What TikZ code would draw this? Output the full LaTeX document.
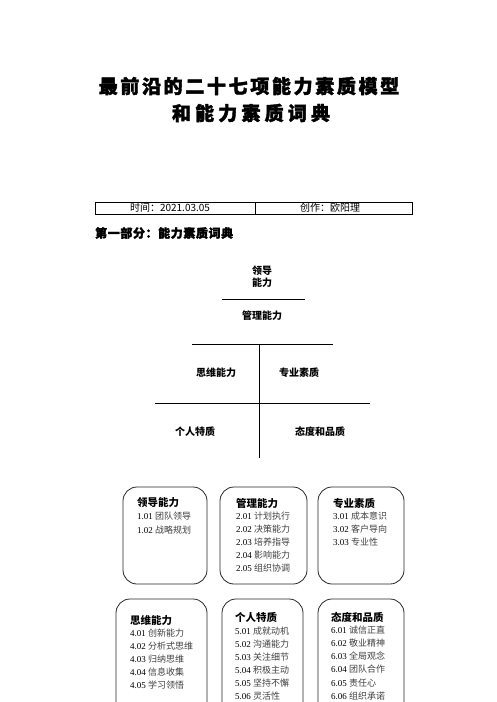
\documentclass[tikz,border=0pt]{standalone}
\usepackage{fontspec}
\setmainfont{Liberation Serif}
\newfontfamily\cjk{Noto Sans CJK SC}
\newfontfamily\cjkheavy{Noto Sans CJK SC}[BoldFeatures={FakeBold=2}]
\newcommand\itm[2]{#1 {\cjk\color{black!75}#2}}

\begin{document}
\begin{tikzpicture}[x=1pt,y=-1pt,
  caja/.style={draw=black!85,line width=0.8pt,rounded corners=14pt},
  cabeza/.style={anchor=west,inner sep=0pt,font=\cjk\bfseries\fontsize{10.5}{12}\selectfont},
  linea/.style={anchor=west,inner sep=0pt,font=\fontsize{9}{11}\selectfont},
  etiqueta/.style={inner sep=0pt,font=\cjk\bfseries\fontsize{10}{12}\selectfont}]

\clip (0,0) rectangle (496,702);
\fill[white] (0,0) rectangle (496,702);

% Titulo
\node[inner sep=0pt,font=\cjkheavy\bfseries\fontsize{19}{22}\selectfont\addfontfeature{LetterSpace=14}] (titulo1) at (249,86) {最前沿的二十七项能力素质模型};
\node[inner sep=0pt,font=\cjkheavy\bfseries\fontsize{19}{22}\selectfont\addfontfeature{LetterSpace=22}] (titulo2) at (251,113) {和能力素质词典};

% Tabla
\draw[line width=0.8pt] (95,202) rectangle (412,214);
\draw[line width=0.8pt] (255,202) -- (255,214);
\node[inner sep=0pt,font=\cjk\fontsize{10}{12}\selectfont] (tiempo) at (170,208) {时间：2021.03.05};
\node[inner sep=0pt,font=\cjk\fontsize{10}{12}\selectfont] (autor) at (330,208) {创作：欧阳理};

\node[anchor=west,inner sep=0pt,font=\cjkheavy\bfseries\fontsize{12}{14}\selectfont\addfontfeature{LetterSpace=5}] (parte) at (95,233) {第一部分：能力素质词典};

% Arbol
\node[etiqueta,align=center] (lider) at (262,277) {领导\\能力};
\draw (222,299) -- (305,299);
\node[etiqueta] (gestion) at (262,316) {管理能力};
\draw (192,344) -- (333,344);
\draw (259,344) -- (259,458);
\draw (155,403) -- (370,403);
\node[etiqueta] (pensar) at (216,373) {思维能力};
\node[etiqueta] (profesion) at (299,373) {专业素质};
\node[etiqueta] (personal) at (195,432) {个人特质};
\node[etiqueta] (actitud) at (320,432) {态度和品质};

% Cajas
\draw[caja] (123,487) rectangle (207,584);
\draw[caja] (220,487) rectangle (307,584);
\draw[caja] (318,487) rectangle (404,584);
\draw[caja] (116,599) rectangle (207,730);
\draw[caja] (222,599) rectangle (303,730);
\draw[caja] (318,599) rectangle (404,730);

% Caja 1
\node[cabeza] (c1) at (137,503) {领导能力};
\node[linea] (c1a) at (137,516) {\itm{1.01}{团队领导}};
\node[linea] (c1b) at (137,530) {\itm{1.02}{战略规划}};

% Caja 2
\node[cabeza] (c2) at (236,503) {管理能力};
\node[linea] (c2a) at (236,516) {\itm{2.01}{计划执行}};
\node[linea] (c2b) at (236,529) {\itm{2.02}{决策能力}};
\node[linea] (c2c) at (236,542) {\itm{2.03}{培养指导}};
\node[linea] (c2d) at (236,555) {\itm{2.04}{影响能力}};
\node[linea] (c2e) at (236,568) {\itm{2.05}{组织协调}};

% Caja 3
\node[cabeza] (c3) at (333,503) {专业素质};
\node[linea] (c3a) at (333,516) {\itm{3.01}{成本意识}};
\node[linea] (c3b) at (333,529) {\itm{3.02}{客户导向}};
\node[linea] (c3c) at (333,542) {\itm{3.03}{专业性}};

% Caja 4
\node[cabeza] (c4) at (130,621) {思维能力};
\node[linea] (c4a) at (130,633) {\itm{4.01}{创新能力}};
\node[linea] (c4b) at (130,646) {\itm{4.02}{分析式思维}};
\node[linea] (c4c) at (130,659) {\itm{4.03}{归纳思维}};
\node[linea] (c4d) at (130,672) {\itm{4.04}{信息收集}};
\node[linea] (c4e) at (130,685) {\itm{4.05}{学习领悟}};

% Caja 5
\node[cabeza] (c5) at (235,617) {个人特质};
\node[linea] (c5a) at (235,631) {\itm{5.01}{成就动机}};
\node[linea] (c5b) at (235,644) {\itm{5.02}{沟通能力}};
\node[linea] (c5c) at (235,657) {\itm{5.03}{关注细节}};
\node[linea] (c5d) at (235,670) {\itm{5.04}{积极主动}};
\node[linea] (c5e) at (235,683) {\itm{5.05}{坚持不懈}};
\node[linea] (c5f) at (235,696) {\itm{5.06}{灵活性}};

% Caja 6
\node[cabeza] (c6) at (331,617) {态度和品质};
\node[linea] (c6a) at (331,630) {\itm{6.01}{诚信正直}};
\node[linea] (c6b) at (331,643) {\itm{6.02}{敬业精神}};
\node[linea] (c6c) at (331,656) {\itm{6.03}{全局观念}};
\node[linea] (c6d) at (331,669) {\itm{6.04}{团队合作}};
\node[linea] (c6e) at (331,683) {\itm{6.05}{责任心}};
\node[linea] (c6f) at (331,696) {\itm{6.06}{组织承诺}};

\end{tikzpicture}
\end{document}
